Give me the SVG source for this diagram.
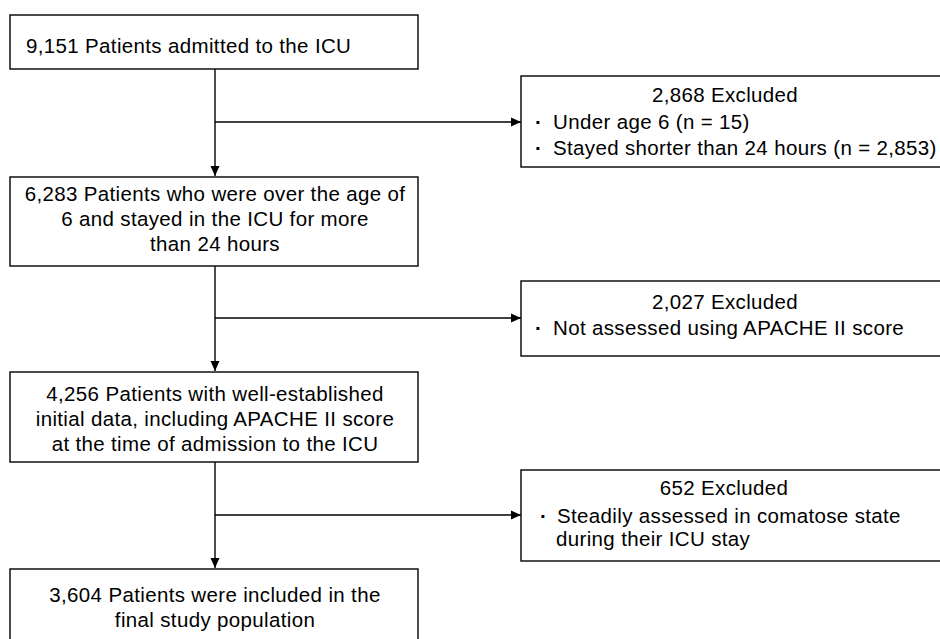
<svg xmlns="http://www.w3.org/2000/svg" width="940" height="639" viewBox="0 0 940 639">
<style>
.box{fill:#fff;stroke:#111;stroke-width:1.5}
.t{font-family:"Liberation Sans",Arial,"Noto Sans CJK JP",sans-serif;font-size:20.5px;letter-spacing:0.35px;fill:#000}
.m{text-anchor:middle}
.b{font-weight:bold}
.c{stroke:#000;stroke-width:1.4;fill:none}
</style>
<defs>
<marker id="ah" viewBox="0 0 10 10" refX="10" refY="5" markerWidth="10" markerHeight="10" markerUnits="userSpaceOnUse" orient="auto">
<path d="M0,0.5 L10,5 L0,9.5 Z" fill="#000"/>
</marker>
</defs>
<rect width="940" height="639" fill="#fff"/>
<g id="connectors">
<line class="c" x1="215" y1="69" x2="215" y2="176" marker-end="url(#ah)"/>
<line class="c" x1="215" y1="122" x2="521" y2="122" marker-end="url(#ah)"/>
<line class="c" x1="215" y1="266" x2="215" y2="371" marker-end="url(#ah)"/>
<line class="c" x1="215" y1="318" x2="521" y2="318" marker-end="url(#ah)"/>
<line class="c" x1="215" y1="462" x2="215" y2="568" marker-end="url(#ah)"/>
<line class="c" x1="215" y1="515" x2="521" y2="515" marker-end="url(#ah)"/>
</g>
<g id="n1">
<rect class="box" x="10" y="15" width="408" height="54"/>
<text class="t" x="26" y="53">9,151 Patients admitted to the ICU</text>
</g>
<g id="x1">
<rect class="box" x="521" y="76" width="430" height="91"/>
<text class="t m" x="725" y="102">2,868 Excluded</text>
<text class="t"><tspan class="b" x="535" y="129">·</tspan><tspan x="553" y="129">Under age 6 (n = 15)</tspan></text>
<text class="t"><tspan class="b" x="535" y="155">·</tspan><tspan x="553" y="155">Stayed shorter than 24 hours (n = 2,853)</tspan></text>
</g>
<g id="n2">
<rect class="box" x="10" y="177" width="408" height="89"/>
<text class="t m" x="215" y="201">6,283 Patients who were over the age of</text>
<text class="t m" x="215" y="226">6 and stayed in the ICU for more</text>
<text class="t m" x="215" y="251">than 24 hours</text>
</g>
<g id="x2">
<rect class="box" x="521" y="281" width="430" height="75"/>
<text class="t m" x="725" y="309">2,027 Excluded</text>
<text class="t"><tspan class="b" x="535" y="335">·</tspan><tspan x="553" y="335">Not assessed using APACHE II score</tspan></text>
</g>
<g id="n3">
<rect class="box" x="10" y="372" width="408" height="90"/>
<text class="t m" x="215" y="401">4,256 Patients with well-established</text>
<text class="t m" x="215" y="426">initial data, including APACHE II score</text>
<text class="t m" x="215" y="451">at the time of admission to the ICU</text>
</g>
<g id="x3">
<rect class="box" x="521" y="470" width="430" height="91"/>
<text class="t m" x="724" y="495">652 Excluded</text>
<text class="t"><tspan class="b" x="540" y="523">·</tspan><tspan x="557" y="523">Steadily assessed in comatose state</tspan></text>
<text class="t" x="556" y="546">during their ICU stay</text>
</g>
<g id="n4">
<rect class="box" x="10" y="569" width="408" height="80"/>
<text class="t m" x="215" y="602">3,604 Patients were included in the</text>
<text class="t m" x="215" y="627">final study population</text>
</g>
</svg>
